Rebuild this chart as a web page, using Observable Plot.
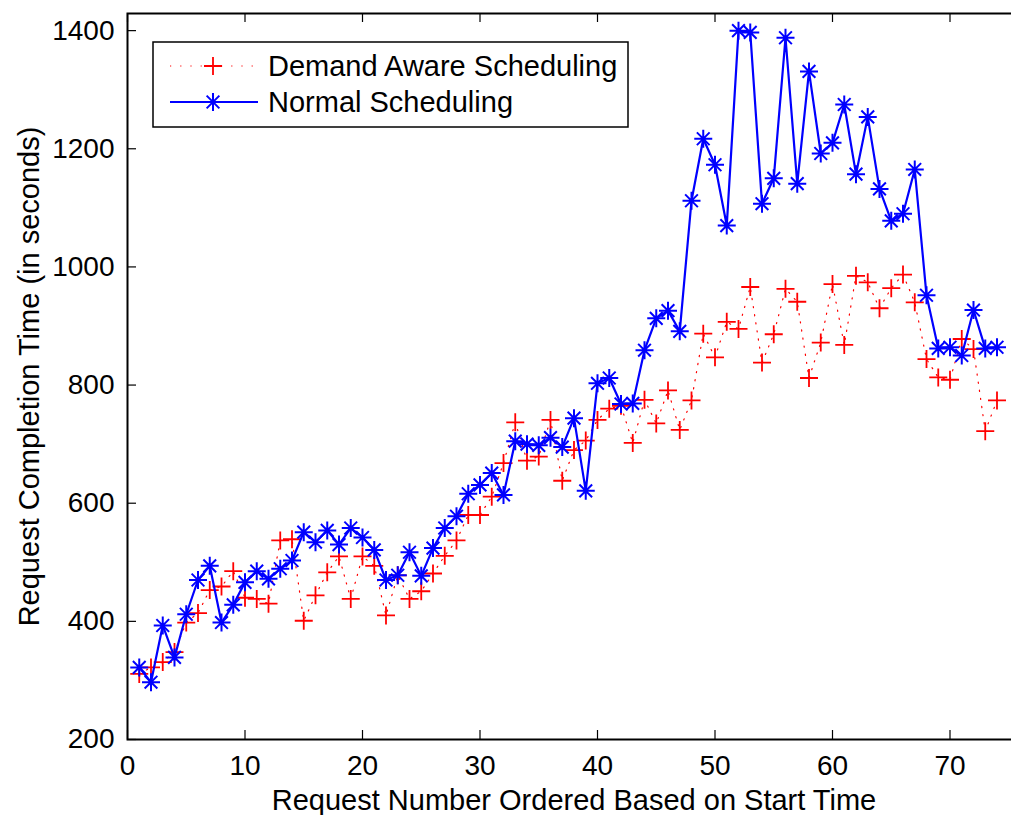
<!DOCTYPE html>
<html><head><meta charset="utf-8">
<script src="https://cdn.jsdelivr.net/npm/d3@7"></script>
<script src="https://cdn.jsdelivr.net/npm/@observablehq/plot@0.6"></script>
<style>html,body{margin:0;padding:0;background:#fff;overflow:hidden;}</style>
</head><body><div id="chart"></div>
<script>
const requestNumbers = d3.range(1, 75);
const demandAware = [311,322,331,348,398,414,453,459,485,440,438,430,537,539,401,444,483,510,438,510,
  494,410,478,438,451,481,511,537,580,580,611,668,737,672,679,741,638,690,706,741,
  760,765,702,775,735,791,724,774,887,847,907,895,966,838,886,963,941,812,872,971,
  868,985,974,930,964,987,940,844,813,809,878,861,722,774];
const normal = [322,297,393,339,412,470,494,398,428,466,485,472,489,503,551,534,554,530,558,542,
  521,470,478,517,477,524,558,578,616,631,651,614,705,700,698,711,695,744,621,803,
  812,768,769,859,913,926,891,1112,1217,1173,1070,1400,1397,1107,1150,1388,1141,1331,1192,1210,
  1275,1157,1254,1132,1078,1090,1165,952,862,864,850,927,862,864];
const xTicks = [0,10,20,30,40,50,60,70];
const yTicks = [200,400,600,800,1000,1200,1400];
const seriesNames = ["Demand Aware Scheduling", "Normal Scheduling"];
const xLabel = "Request Number Ordered Based on Start Time";
const yLabel = "Request Completion Time (in seconds)";

const demandData = requestNumbers.map((n, i) => ({n, t: demandAware[i]}));
const normalData = requestNumbers.map((n, i) => ({n, t: normal[i]}));

const plusSymbol = {draw(ctx, size) {
  const r = Math.sqrt(size / Math.PI);
  ctx.moveTo(-r, 0); ctx.lineTo(r, 0);
  ctx.moveTo(0, -r); ctx.lineTo(0, r);
}};
const starSymbol = {draw(ctx, size) {
  const r = Math.sqrt(size / Math.PI), d = r * 0.7071;
  ctx.moveTo(-r, 0); ctx.lineTo(r, 0);
  ctx.moveTo(0, -r); ctx.lineTo(0, r);
  ctx.moveTo(-d, -d); ctx.lineTo(d, d);
  ctx.moveTo(-d, d); ctx.lineTo(d, -d);
}};

const FONT = "'Liberation Sans', Arial, Helvetica, sans-serif";
const W = 1011, H = 815, mL = 127, mT = 13, mB = 76, mR = -9;
const frameW = W - mL - mR, frameH = H - mT - mB;
const tickLen = 9;
const RED = "#ff0000", BLUE = "#0000ff";

const plot = Plot.plot({
  width: W, height: H,
  marginLeft: mL, marginRight: mR, marginTop: mT, marginBottom: mB,
  style: {fontFamily: FONT, fontSize: "28px", background: "white", color: "black"},
  x: {domain: [0, 76], label: null},
  y: {domain: [200, 1429], label: null},
  marks: [
    Plot.tickX(xTicks, {x: d => d, insetTop: frameH - tickLen, stroke: "black", strokeWidth: 1.2}),
    Plot.tickX(xTicks, {x: d => d, insetBottom: frameH - tickLen, stroke: "black", strokeWidth: 1.2}),
    Plot.tickY(yTicks, {y: d => d, insetRight: frameW - tickLen, stroke: "black", strokeWidth: 1.2}),
    Plot.axisX(xTicks, {anchor: "bottom", tickSize: 0, tickPadding: 16, fontSize: 28, label: null, tickFormat: d => String(d)}),
    Plot.axisY(yTicks, {anchor: "left", tickSize: 0, tickPadding: 13, fontSize: 28, label: null, tickFormat: d => String(d)}),
    Plot.line(demandData, {x: "n", y: "t", stroke: RED, strokeWidth: 1.2, strokeDasharray: "1.2,7"}),
    Plot.dot(demandData, {x: "n", y: "t", symbol: plusSymbol, r: 9, stroke: RED, strokeWidth: 1.8, fill: "none"}),
    Plot.line(normalData, {x: "n", y: "t", stroke: BLUE, strokeWidth: 2.2}),
    Plot.dot(normalData, {x: "n", y: "t", symbol: starSymbol, r: 9, stroke: BLUE, strokeWidth: 2, fill: "none"}),
    Plot.frame({stroke: "black", strokeWidth: 2}),
    Plot.text([xLabel], {text: d => d, frameAnchor: "bottom", dy: 61, lineAnchor: "middle", textAnchor: "middle", fontSize: 29, fill: "black"}),
    Plot.text([yLabel], {text: d => d, frameAnchor: "left", dx: -98, rotate: -90, lineAnchor: "middle", textAnchor: "middle", fontSize: 29, fill: "black"})
  ]
});

// legend inside the plot area
const svg = d3.select(plot);
const lg = svg.append("g").attr("font-family", FONT).attr("font-size", 29).attr("fill", "black");
lg.append("rect").attr("x", 153).attr("y", 42).attr("width", 475).attr("height", 85)
  .attr("fill", "white").attr("stroke", "black").attr("stroke-width", 1.5);
const rows = [
  {name: seriesNames[0], y: 66, color: RED, dash: "1.2,9", sym: plusSymbol, sw: 1.2, msw: 1.8},
  {name: seriesNames[1], y: 102, color: BLUE, dash: null, sym: starSymbol, sw: 2.2, msw: 2}
];
for (const row of rows) {
  lg.append("line").attr("x1", 170).attr("x2", 258).attr("y1", row.y).attr("y2", row.y)
    .attr("stroke", row.color).attr("stroke-width", row.sw)
    .attr("stroke-dasharray", row.dash);
  lg.append("path").attr("transform", `translate(213,${row.y})`)
    .attr("d", d3.symbol(row.sym, Math.PI * 81)())
    .attr("stroke", row.color).attr("stroke-width", row.msw).attr("fill", "none");
  lg.append("text").attr("x", 268).attr("y", row.y).attr("dy", "0.35em")
    .attr("text-anchor", "start").text(row.name);
}

document.getElementById("chart").appendChild(plot);
</script>
</body></html>
